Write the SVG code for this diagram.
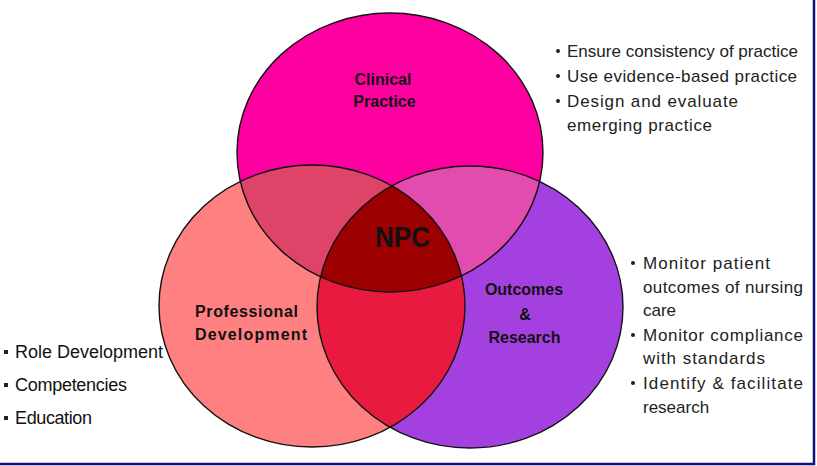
<svg xmlns="http://www.w3.org/2000/svg" width="817" height="466" viewBox="0 0 817 466">
<style>
.outline{fill:none;stroke:#111;stroke-width:1.4}
.lbl{font-family:"Liberation Sans",Arial,sans-serif;font-weight:bold;font-size:16px;fill:#111}
.lst{font-family:"Liberation Sans",Arial,sans-serif;font-size:17px;fill:#222}
.big{font-size:18px;fill:#111}
.dot{fill:#222}
</style>
<defs>
<ellipse id="eTop" cx="390" cy="152.5" rx="153" ry="139.5"/>
<ellipse id="eLeft" cx="312" cy="306" rx="153" ry="141"/>
<ellipse id="eRight" cx="470" cy="307" rx="153" ry="141"/>
<clipPath id="cTop"><use href="#eTop"/></clipPath>
<clipPath id="cLeft"><use href="#eLeft"/></clipPath>
<clipPath id="cRight"><use href="#eRight"/></clipPath>
</defs>
<rect x="0" y="0" width="817" height="466" fill="#fff"/>

<g id="node-professional-development">
<use href="#eLeft" fill="#FF8080"/>
</g>
<g id="node-outcomes-research">
<use href="#eRight" fill="#A540E0"/>
</g>
<g id="node-clinical-practice">
<use href="#eTop" fill="#FF00A0"/>
</g>
<g id="overlaps">
<use href="#eLeft" fill="#DE4468" clip-path="url(#cTop)"/>
<use href="#eRight" fill="#E24CAE" clip-path="url(#cTop)"/>
<use href="#eRight" fill="#E81A40" clip-path="url(#cLeft)"/>
<g clip-path="url(#cLeft)"><use href="#eTop" fill="#9C0000" clip-path="url(#cRight)"/></g>
</g>
<g id="outlines">
<use href="#eLeft" class="outline"/>
<use href="#eRight" class="outline"/>
<use href="#eTop" class="outline"/>
</g>

<g id="labels">
<text class="lbl" x="383" y="85" text-anchor="middle">Clinical</text>
<text class="lbl" x="384.5" y="107" text-anchor="middle">Practice</text>
<text class="lbl" x="195" y="317" textLength="103">Professional</text>
<text class="lbl" x="195" y="340" textLength="112">Development</text>
<text class="lbl" x="524" y="295" text-anchor="middle">Outcomes</text>
<text class="lbl" x="525" y="320" text-anchor="middle">&amp;</text>
<text class="lbl" x="524.5" y="343" text-anchor="middle">Research</text>
</g>
<g id="node-npc">
<text x="375" y="247" textLength="55" lengthAdjust="spacingAndGlyphs" style="font-family:'Liberation Sans',Arial,sans-serif;font-weight:bold;font-size:29px;fill:#111">NPC</text>
</g>

<g id="list-clinical">
<circle class="dot" cx="558" cy="51" r="2"/>
<circle class="dot" cx="558" cy="76" r="2"/>
<circle class="dot" cx="558" cy="101" r="2"/>
<text class="lst" x="567" y="57" textLength="231">Ensure consistency of practice</text>
<text class="lst" x="567" y="82" textLength="230">Use evidence-based practice</text>
<text class="lst" x="567" y="107" textLength="171">Design and evaluate</text>
<text class="lst" x="567" y="131" textLength="145">emerging practice</text>
</g>
<g id="list-outcomes">
<circle class="dot" cx="633" cy="263" r="2"/>
<circle class="dot" cx="633" cy="335" r="2"/>
<circle class="dot" cx="633" cy="383" r="2"/>
<text class="lst" x="643" y="269" textLength="127">Monitor patient</text>
<text class="lst" x="643" y="293" textLength="160">outcomes of nursing</text>
<text class="lst" x="643" y="316">care</text>
<text class="lst" x="643" y="341" textLength="160">Monitor compliance</text>
<text class="lst" x="643" y="364" textLength="122">with standards</text>
<text class="lst" x="643" y="389" textLength="160">Identify &amp; facilitate</text>
<text class="lst" x="643" y="413">research</text>
</g>
<g id="list-professional">
<rect class="dot" x="4" y="350" width="4" height="4"/>
<rect class="dot" x="4" y="383" width="4" height="4"/>
<rect class="dot" x="4" y="416" width="4" height="4"/>
<text class="lst big" x="15" y="358" textLength="148">Role Development</text>
<text class="lst big" x="15" y="391" textLength="112">Competencies</text>
<text class="lst big" x="15" y="424" textLength="77">Education</text>
</g>

<g id="frame">
<path d="M814,0 V464 H0" fill="none" stroke="#101080" stroke-width="2.5"/>
</g>
</svg>
